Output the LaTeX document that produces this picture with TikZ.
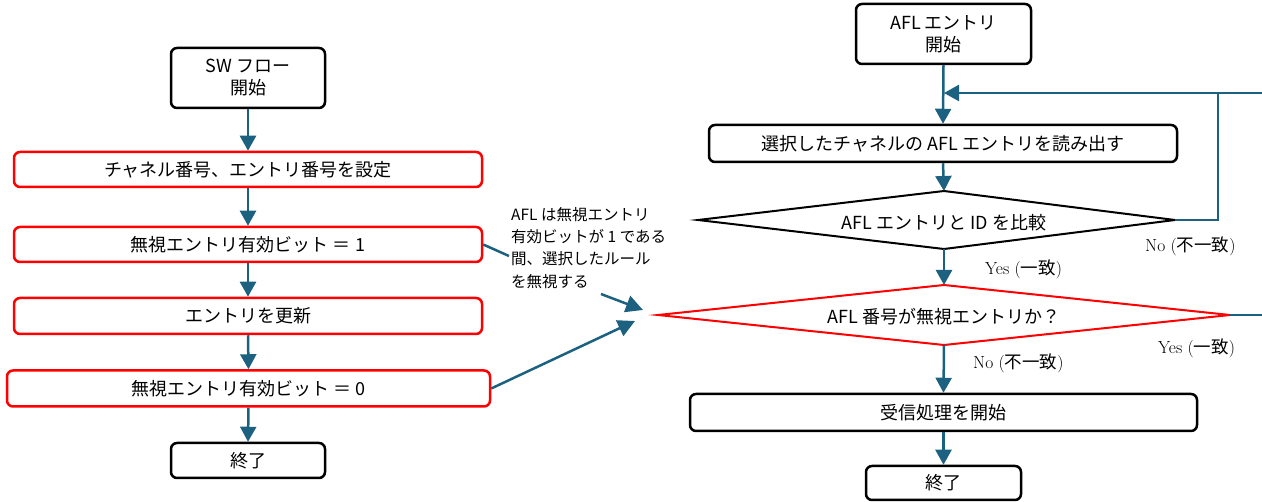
\documentclass[tikz,border=0pt]{standalone}
\usepackage{fontspec}
\newfontfamily\jp{Noto Sans CJK JP}
\usetikzlibrary{arrows.meta}
\definecolor{arr}{RGB}{28,98,128}
\begin{document}
\begin{tikzpicture}[x=1pt,y=-1pt,
  every node/.style={inner sep=0pt},
  flow/.style={draw=arr, line width=2.5pt, -{Triangle[width=16pt,length=15pt]}},
  plain/.style={draw=arr, line width=2.5pt},
  rbox/.style={draw=black, line width=2.5pt, rounded corners=6pt, fill=white, font=\jp\fontsize{18}{22}\selectfont, align=center},
  redbox/.style={draw=red, line width=2.5pt, rounded corners=6pt, fill=white, font=\jp\fontsize{18}{22}\selectfont, align=center},
  dtext/.style={font=\jp\fontsize{18}{22}\selectfont},
  lbl/.style={font=\fontsize{17.5}{20}\selectfont, anchor=west}
]
\useasboundingbox (0,0) rectangle (1262,502);

% ---------- left column ----------
\node[rbox, minimum width=154pt, minimum height=60pt] (sw) at (248,78) {SW フロー\\開始};
\node[redbox, minimum width=468pt, minimum height=35pt] (b1) at (248,169.5) {チャネル番号、エントリ番号を設定};
\node[redbox, minimum width=468pt, minimum height=35pt] (b2) at (248,244.5) {無視エントリ有効ビット ＝ 1};
\node[redbox, minimum width=468pt, minimum height=36pt] (b3) at (248,316) {エントリを更新};
\node[redbox, minimum width=483pt, minimum height=36pt] (b4) at (248.5,388.5) {無視エントリ有効ビット ＝ 0};
\node[rbox, minimum width=154pt, minimum height=35pt] (e1) at (248,460.5) {終了};

\draw[flow] (sw.south) -- (b1.north);
\draw[flow] (b1.south) -- (b2.north);
\draw[flow] (b2.south) -- (b3.north);
\draw[flow] (b3.south) -- (b4.north);
\draw[flow] (b4.south) -- (e1.north);

% ---------- annotation ----------
\node[anchor=north west, align=left, font=\jp\fontsize{15.5}{22.3}\selectfont] (note) at (511,207)
  {AFL は無視エントリ\\有効ビットが 1 である\\間、選択したルール\\を無視する};
\coordinate (n1) at (509,256);
\coordinate (n2) at (601,294);
\coordinate (t1) at (643,310);
\coordinate (t2) at (635,321);
\draw[plain] (b2.east) -- (n1);
\draw[draw=arr, line width=2.5pt, -{Triangle[width=17pt,length=17pt]}] (n2) -- (t1);
\draw[draw=arr, line width=2.5pt, -{Triangle[width=17pt,length=17pt]}] (b4.east) -- (t2);

% ---------- right column ----------
\node[rbox, minimum width=175pt, minimum height=60pt] (s2) at (943.5,34) {AFL エントリ\\開始};
\node[rbox, minimum width=468pt, minimum height=37pt] (rd) at (943,143.5) {選択したチャネルの AFL エントリを読み出す};

% compare diamond (black)
\coordinate (d1t) at (944,191);
\coordinate (d1r) at (1175,220);
\coordinate (d1b) at (944,249);
\coordinate (d1l) at (698,220);
\draw[line width=2pt, line join=miter] (d1t) -- (d1r) -- (d1b) -- (d1l) -- cycle;
\node[dtext] (d1) at (944,223) {AFL エントリと ID を比較};

% ignore-check diamond (red)
\coordinate (d2t) at (944,285);
\coordinate (d2r) at (1230,315);
\coordinate (d2b) at (944,345);
\coordinate (d2l) at (658,315);
\draw[red, line width=2pt, line join=miter] (d2t) -- (d2r) -- (d2b) -- (d2l) -- cycle;
\node[dtext] (d2) at (944,317) {AFL 番号が無視エントリか？};

\node[rbox, minimum width=507pt, minimum height=37pt] (rc) at (943.5,412.5) {受信処理を開始};
\node[rbox, minimum width=155pt, minimum height=34pt] (e2) at (943.5,483) {終了};

% connectors
\coordinate (loopin) at (944,93);
\coordinate (lc) at (1218,93);
\coordinate (lr) at (1262,93);
\coordinate (ld) at (1218,220);
\coordinate (yr) at (1262,315);

\draw[flow] (s2.south) -- (rd.north);
\draw[flow] (lr) -- (loopin);
\draw[plain] (d1r) -- (ld) -- (lc);
\draw[flow] (rd.south) -- (d1t);
\draw[flow] (d1b) -- (d2t);
\draw[plain] (d2r) -- (yr);
\draw[flow] (d2b) -- (rc.north);
\draw[flow] (rc.south) -- (e2.north);

% labels
\node[lbl] (lno1) at (1145,246) {No ({\jp 不一致})};
\node[lbl] (lyes1) at (985,269) {Yes ({\jp 一致})};
\node[lbl] (lyes2) at (1158,348) {Yes ({\jp 一致})};
\node[lbl] (lno2) at (973,363) {No ({\jp 不一致})};
\end{tikzpicture}
\end{document}
